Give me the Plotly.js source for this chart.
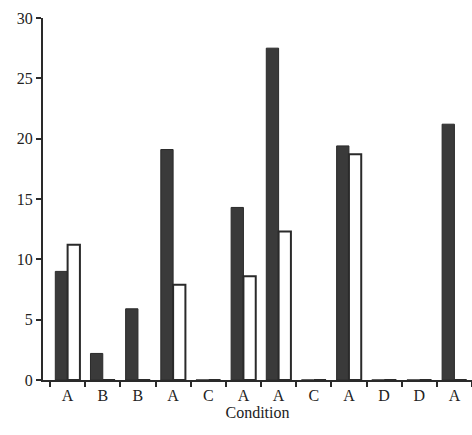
<!DOCTYPE html>
<html>
<head>
<meta charset="utf-8">
<script src="https://cdn.plot.ly/plotly-3.0.1.min.js"></script>
<style>html,body{margin:0;padding:0;background:#fff;}#chart{width:472px;height:435px;}</style>
</head>
<body>
<div id="chart"></div>
<script>
var conditions = ["A", "B", "B", "A", "C", "A", "A", "C", "A", "D", "D", "A"];
var darkValues = [9.0, 2.2, 5.9, 19.1, 0, 14.3, 27.5, 0, 19.4, 0, 0, 21.2];
var whiteValues = [11.2, 0, 0, 7.9, 0, 8.6, 12.3, 0, 18.7, 0, 0, 0];
var yTicks = [0, 5, 10, 15, 20, 25, 30];

var idx = conditions.map(function (_, i) { return i; });
var boundaries = conditions.map(function (_, i) { return i - 0.5; }).concat([conditions.length - 0.5]);
var xRange = [-0.7, conditions.length - 0.5];
var ink = "#222";
var fontFam = "Liberation Serif, serif";

var traces = [
  {type: "bar", x: idx, y: darkValues, name: "dark",
   marker: {color: "#3a3a3a", line: {color: "#2a2a2a", width: 1}}},
  {type: "bar", x: idx, y: whiteValues, name: "white",
   marker: {color: "#ffffff", line: {color: "#2a2a2a", width: 2}}},
  {type: "scatter", mode: "markers", x: boundaries, y: boundaries.map(function () { return 0; }),
   xaxis: "x2", yaxis: "y", marker: {opacity: 0, size: 1}, hoverinfo: "skip", showlegend: false}
];

var layout = {
  width: 472, height: 435,
  margin: {l: 43, r: 0, t: 18, b: 55},
  paper_bgcolor: "#fff", plot_bgcolor: "#fff",
  showlegend: false,
  barmode: "group", bargap: 0.3, bargroupgap: 0,
  font: {family: fontFam, color: ink, size: 16},
  xaxis: {
    range: xRange,
    tickmode: "array", tickvals: idx, ticktext: conditions,
    ticks: "", showline: true, linewidth: 2, linecolor: "#2a2a2a",
    showgrid: false, zeroline: false,
    tickfont: {size: 16, family: fontFam, color: ink},
    title: {text: "Condition", font: {size: 16, family: fontFam, color: ink}, standoff: 0}
  },
  xaxis2: {
    range: xRange, overlaying: "x", anchor: "y", side: "bottom",
    tickmode: "array", tickvals: boundaries, showticklabels: false,
    ticks: "outside", ticklen: 6, tickwidth: 2, tickcolor: "#2a2a2a",
    showline: false, showgrid: false, zeroline: false
  },
  yaxis: {
    range: [0, 30],
    tickmode: "array", tickvals: yTicks, ticktext: yTicks.map(String),
    ticks: "outside", ticklen: 5, tickwidth: 2, tickcolor: "#2a2a2a",
    showline: true, linewidth: 2, linecolor: "#2a2a2a",
    showgrid: false, zeroline: false,
    tickfont: {size: 16, family: fontFam, color: ink}
  }
};

Plotly.newPlot("chart", traces, layout, {displayModeBar: false, staticPlot: true});
</script>
</body>
</html>
